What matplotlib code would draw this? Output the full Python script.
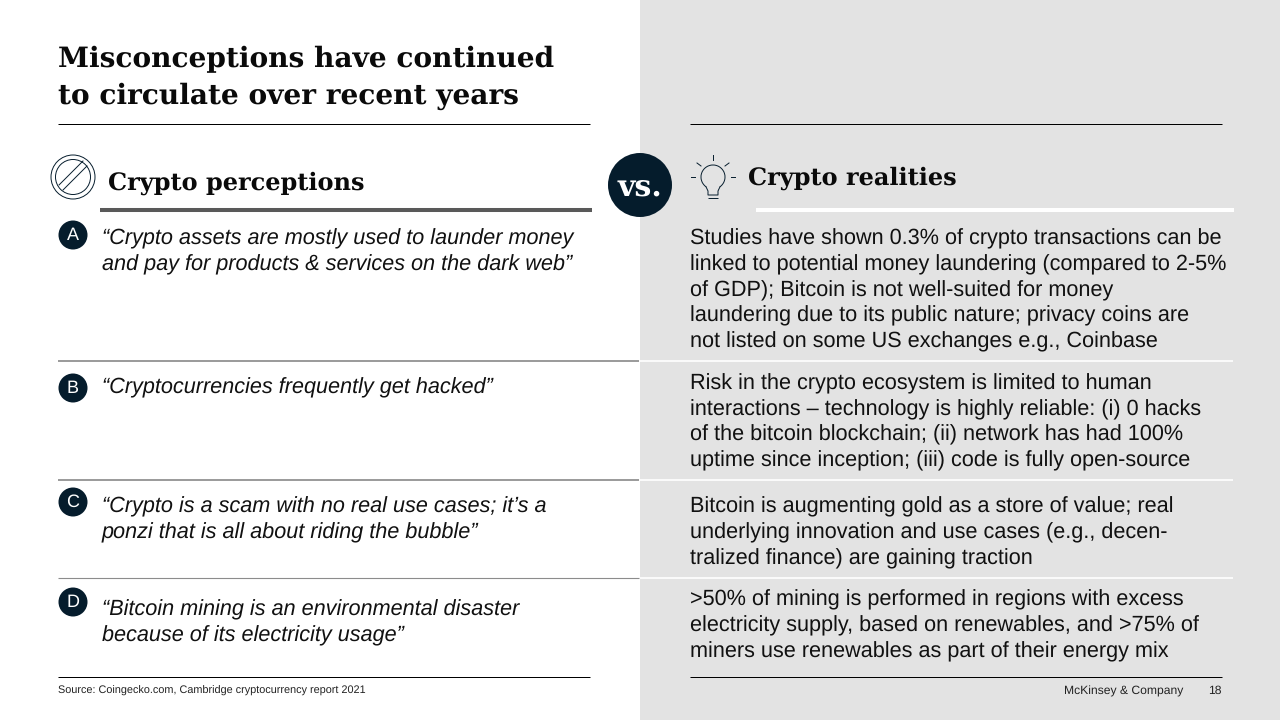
import matplotlib
matplotlib.use("Agg")
import matplotlib.pyplot as plt
from matplotlib.patches import Rectangle, Circle, Polygon, Arc

plt.rcParams["text.hinting"] = "no_hinting"

NAVY = "#051c2c"
GREY = "#e3e3e3"
SANS = "Liberation Sans"
SERIF = "DejaVu Serif"

title_lines = ["Misconceptions have continued", "to circulate over recent years"]
left_header = "Crypto perceptions"
right_header = "Crypto realities"
vs_label = "vs."
badges = ["A", "B", "C", "D"]
badge_y = [235, 388, 502, 602]
left_lines = [
    "\u201cCrypto assets are mostly used to launder money",
    "and pay for products & services on the dark web\u201d",
    "\u201cCryptocurrencies frequently get hacked\u201d",
    "\u201cCrypto is a scam with no real use cases; it\u2019s a",
    "ponzi that is all about riding the bubble\u201d",
    "\u201cBitcoin mining is an environmental disaster",
    "because of its electricity usage\u201d",
]
left_y = [237, 263, 386, 505, 531, 608, 634]
right_lines = [
    "Studies have shown 0.3% of crypto transactions can be",
    "linked to potential money laundering (compared to 2-5%",
    "of GDP); Bitcoin is not well-suited for money",
    "laundering due to its public nature; privacy coins are",
    "not listed on some US exchanges e.g., Coinbase",
    "Risk in the crypto ecosystem is limited to human",
    "interactions \u2013 technology is highly reliable: (i) 0 hacks",
    "of the bitcoin blockchain; (ii) network has had 100%",
    "uptime since inception; (iii) code is fully open-source",
    "Bitcoin is augmenting gold as a store of value; real",
    "underlying innovation and use cases (e.g., decen-",
    "tralized finance) are gaining traction",
    ">50% of mining is performed in regions with excess",
    "electricity supply, based on renewables, and >75% of",
    "miners use renewables as part of their energy mix",
]
right_y = [237, 263, 289, 314, 340, 382, 408, 433, 459, 505, 531, 557, 598, 624, 650]
source = "Source: Coingecko.com, Cambridge cryptocurrency report 2021"
brand = "McKinsey & Company"
page = "18"

fig = plt.figure(figsize=(12.8, 7.2), dpi=100)
ax = fig.add_axes([0, 0, 1, 1])
ax.set_xlim(0, 1280)
ax.set_ylim(720, 0)
ax.axis("off")
ax.add_patch(Rectangle((640, 0), 640, 720, fc=GREY, ec="none", zorder=0))


def hline(x0, x1, y, c="black", lw=0.72):
    ax.plot([x0, x1], [y, y], color=c, lw=lw, solid_capstyle="butt", zorder=1)


hline(58, 590, 124)
hline(690, 1222, 124)
hline(100, 592, 210, "#595959", 2.9)
hline(756, 1234, 210, "white", 2.9)
for y, c0, lw in [(360.5, "#7f7f7f", 1.1), (480, "#7f7f7f", 1.1), (577.5, "#8c8c8c", 0.8)]:
    hline(58, 639, y, c0, lw)
    hline(640, 1233, y, "white", 1.2)
hline(58, 590, 677)
hline(690, 1222, 677)

for y, s in zip([59, 96], title_lines):
    ax.text(58, y, s, family=SERIF, weight="bold", size=20.2, color="#0a0a0a", va="center")
ax.text(108, 183, left_header, family=SERIF, weight="bold", size=17.3, color="#0a0a0a", va="center")
ax.text(748, 178, right_header, family=SERIF, weight="bold", size=17.3, color="#0a0a0a", va="center")

# no-entry icon
ax.add_patch(Circle((73, 177), 22, fc="none", ec=NAVY, lw=0.7))
ax.add_patch(Circle((73, 177), 17.5, fc="none", ec=NAVY, lw=0.7))
ax.add_patch(Polygon([(58, 185), (82, 163), (85, 166), (63, 188)], closed=True, fc="white", ec="none", zorder=2))
ax.plot([59, 83], [185, 161], color=NAVY, lw=0.7, zorder=3)
ax.plot([63, 87], [190, 166], color=NAVY, lw=0.7, zorder=3)

# vs badge
ax.add_patch(Circle((640, 185), 32, fc=NAVY, ec="none", zorder=3))
ax.text(640, 187, vs_label, family=SERIF, weight="bold", size=21.6, color="white",
        ha="center", va="center", zorder=4)

# light bulb icon
bx, by = 713, 177
ax.add_patch(Arc((bx, by), 24, 24, theta1=125, theta2=55, ec=NAVY, lw=0.7))
ax.plot([bx - 7, bx - 5, bx - 5, bx + 5, bx + 5, bx + 7],
        [by + 9.8, by + 14, by + 18, by + 18, by + 14, by + 9.8], color=NAVY, lw=0.7)
hline(bx - 5, bx + 5, by + 21, NAVY, 0.7)
for x0, y0, x1, y1 in [(691, 177, 695, 177), (731, 177, 735, 177), (713, 155, 713, 160),
                       (697, 163, 701, 166), (729, 163, 725, 166)]:
    ax.plot([x0, x1], [y0, y1], color=NAVY, lw=0.7)

for y, s in zip(badge_y, badges):
    ax.add_patch(Circle((73, y), 14.5, fc=NAVY, ec="none", zorder=3))
    ax.text(73, y, s, family=SANS, size=13, color="white", ha="center", va="center", zorder=4)

for y, s in zip(left_y, left_lines):
    ax.text(102, y + 2, s, family=SANS, style="italic", size=15.6, color="#111111", va="center")
for y, s in zip(right_y, right_lines):
    ax.text(690, y + 2, s, family=SANS, size=15.6, color="#111111", va="center")

ax.text(58, 690.5, source, family=SANS, size=7.8, color="#222222", va="center")
ax.text(1183, 691, brand, family=SANS, size=8.7, color="#222222", va="center", ha="right")
ax.text(1222, 691, page, family=SANS, size=8.7, color="#222222", va="center", ha="right")

fig.savefig("out.png", dpi=100)
